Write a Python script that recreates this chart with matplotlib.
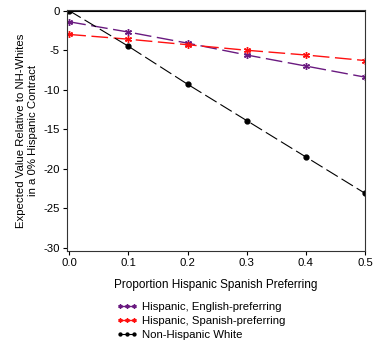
import matplotlib
matplotlib.use("Agg")
import matplotlib.pyplot as plt

plt.rcParams['font.family'] = ['Liberation Sans', 'DejaVu Sans']

x = [0.0, 0.1, 0.2, 0.3, 0.4, 0.5]
english = [-1.4, -2.7, -4.1, -5.6, -7.0, -8.4]
spanish = [-3.0, -3.6, -4.3, -5.0, -5.6, -6.3]
nhw = [0.0, -4.5, -9.3, -13.9, -18.5, -23.1]
xticks = [0.0, 0.1, 0.2, 0.3, 0.4, 0.5]
yticks = [0, -5, -10, -15, -20, -25, -30]

fig = plt.figure(figsize=(3.76, 3.43), dpi=100)
ax = fig.add_axes([0.178, 0.268, 0.793, 0.703])

dash = (0, (12, 4))
ax.plot(x, english, color='#6a1a80', ls=dash, lw=1.0, marker=(6, 2, 0), ms=5, mew=1.0,
        label='Hispanic, English-preferring')
ax.plot(x, spanish, color='#ff1010', ls=dash, lw=1.0, marker=(6, 2, 0), ms=5, mew=1.0,
        label='Hispanic, Spanish-preferring')
ax.plot(x, nhw, color='black', ls=dash, lw=0.8, marker='o', ms=3.5,
        label='Non-Hispanic White')
ax.axhline(0, color='black', lw=0.8)

ax.set_xlim(-0.004, 0.5)
ax.set_ylim(-30.4, 0.1)
ax.set_xticks(xticks)
ax.set_xticklabels([f"{v:.1f}" for v in xticks])
ax.set_yticks(yticks)
ax.set_yticklabels([str(v) for v in yticks])
ax.tick_params(labelsize=8.2, length=3, width=0.8, direction='out', pad=2)
for s in ax.spines.values():
    s.set_linewidth(0.8)
    s.set_color('#333333')

ax.set_xlabel('Proportion Hispanic Spanish Preferring', fontsize=8.5, labelpad=8)
ax.set_ylabel('Expected Value Relative to NH-Whites\nin a 0% Hispanic Contract', fontsize=8.2, labelpad=4)

leg = fig.legend(loc='upper left', bbox_to_anchor=(0.298, 0.133), frameon=False,
                 fontsize=8.2, handlelength=1.8, handletextpad=0.4, labelspacing=0.35,
                 borderaxespad=0, numpoints=3, markerscale=0.6)

fig.savefig('out.png', dpi=100)
